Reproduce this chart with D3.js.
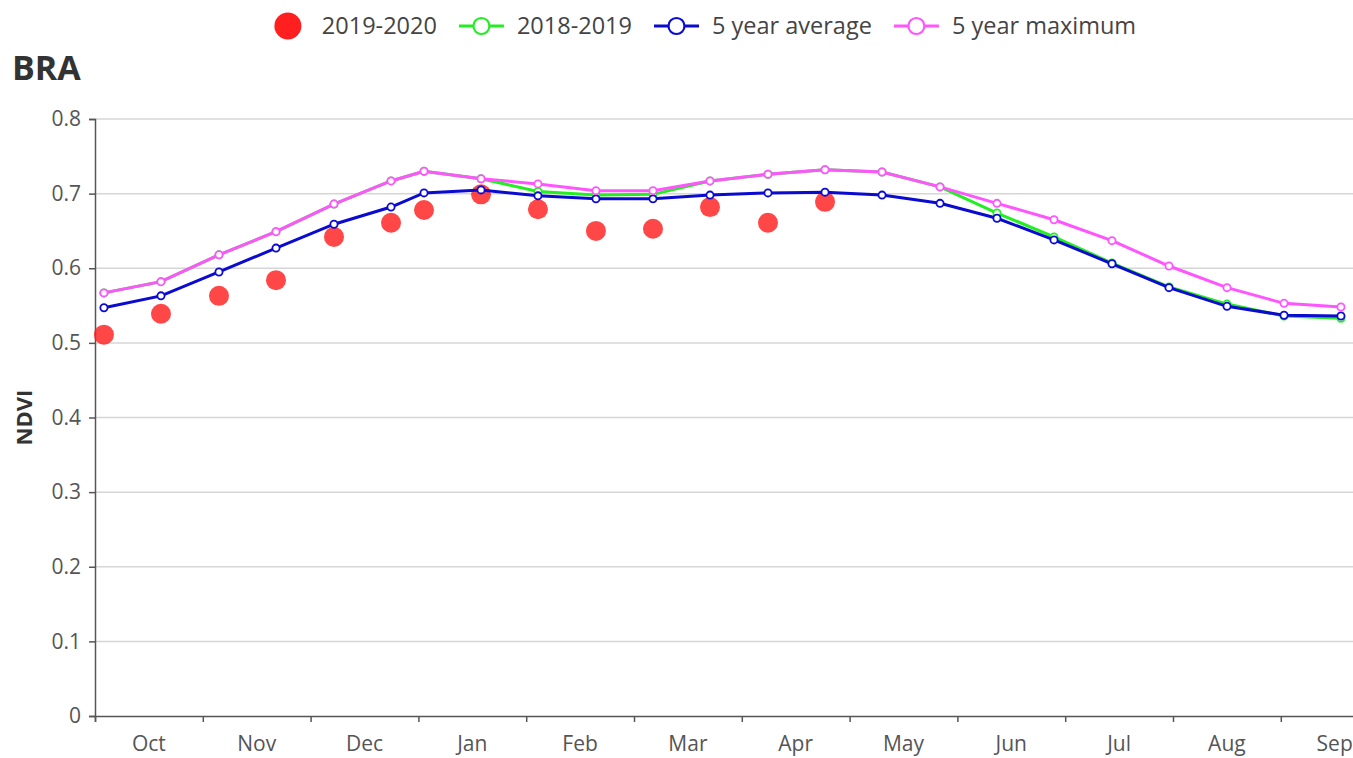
<!DOCTYPE html>
<html>
<head>
<meta charset="utf-8">
<script src="https://cdn.jsdelivr.net/npm/d3@7"></script>
<style>
  html, body { margin: 0; padding: 0; background: #fff; overflow: hidden; }
  svg { display: block; font-family: "Open Sans", sans-serif; }
</style>
</head>
<body>
<script>
// month labels of the season axis
const months = ["Oct", "Nov", "Dec", "Jan", "Feb", "Mar", "Apr", "May", "Jun", "Jul", "Aug", "Sep"];

// position of each 16-day composite, in months since 1 Oct
const period = [0.083, 0.612, 1.150, 1.679, 2.217, 2.746, 3.052, 3.581, 4.109, 4.647, 5.176, 5.705,
                6.243, 6.772, 7.301, 7.839, 8.367, 8.896, 9.434, 9.963, 10.501, 11.030, 11.558];

const ndvi2020 = [0.511, 0.539, 0.563, 0.584, 0.642, 0.661, 0.678, 0.699, 0.679, 0.650, 0.653, 0.682,
                  0.661, 0.689];

const ndvi2019 = [0.567, 0.582, 0.618, 0.649, 0.686, 0.717, 0.730, 0.720, 0.703, 0.698, 0.699, 0.717,
                  0.726, 0.732, 0.729, 0.709, 0.674, 0.642, 0.607, 0.575, 0.552, 0.536, 0.533];

const avg5 = [0.547, 0.563, 0.595, 0.627, 0.659, 0.682, 0.701, 0.705, 0.697, 0.693, 0.693, 0.698,
              0.701, 0.702, 0.698, 0.687, 0.667, 0.638, 0.606, 0.574, 0.549, 0.537, 0.536];

const max5 = [0.567, 0.582, 0.618, 0.649, 0.686, 0.717, 0.730, 0.720, 0.713, 0.704, 0.704, 0.717,
              0.726, 0.732, 0.729, 0.709, 0.687, 0.665, 0.637, 0.603, 0.574, 0.553, 0.548];

const yTicks = [0, 0.1, 0.2, 0.3, 0.4, 0.5, 0.6, 0.7, 0.8];

const W = 1353, H = 758;
const margin = {top: 119, left: 95, bottom: 42};
const monthW = 107.8;

const svg = d3.select("body").append("svg")
  .attr("width", W)
  .attr("height", H);

const x = d3.scaleLinear().domain([0, 12]).range([margin.left, margin.left + 12 * monthW]);
const y = d3.scaleLinear().domain([0, 0.8]).range([H - margin.bottom, margin.top]);

// grid
svg.append("g").selectAll("line")
  .data(yTicks.filter(d => d > 0))
  .enter().append("line")
  .attr("x1", x(0)).attr("x2", W)
  .attr("y1", d => y(d)).attr("y2", d => y(d))
  .attr("stroke", "#d6d6d6")
  .attr("stroke-width", 1.5);

// y axis
const yAxis = svg.append("g")
  .attr("transform", `translate(${x(0)},0)`)
  .call(d3.axisLeft(y).tickValues(yTicks).tickSize(6).tickPadding(8)
        .tickFormat(d => d === 0 ? "0" : d3.format(".1f")(d)));
yAxis.select(".domain").attr("stroke", "#555").attr("stroke-width", 1.5);
yAxis.selectAll(".tick line").attr("stroke", "#555").attr("stroke-width", 1.5);
yAxis.selectAll(".tick text")
  .attr("fill", "#555")
  .style("font-size", "21px")
  .style("font-family", "Open Sans");

// x axis: month boundaries as ticks, labels centred in each month
const xAxis = svg.append("g")
  .attr("transform", `translate(0,${y(0)})`)
  .call(d3.axisBottom(x).tickValues(d3.range(0, 13)).tickSize(6).tickFormat(""));
xAxis.select(".domain").attr("stroke", "#555").attr("stroke-width", 1.5);
xAxis.selectAll(".tick line").attr("stroke", "#555").attr("stroke-width", 1.5);

svg.append("g").selectAll("text")
  .data(months)
  .enter().append("text")
  .attr("x", (d, i) => x(i + 0.5))
  .attr("y", y(0) + 35)
  .attr("text-anchor", "middle")
  .attr("fill", "#555")
  .style("font-size", "21px")
  .text(d => d);

// title and axis name
svg.append("text")
  .attr("x", 12).attr("y", 80)
  .attr("fill", "#333")
  .style("font-size", "34px")
  .style("font-weight", "bold")
  .text("BRA");

svg.append("text")
  .attr("transform", `translate(32,${(y(0.4))}) rotate(-90)`)
  .attr("text-anchor", "middle")
  .attr("fill", "#333")
  .style("font-size", "22px")
  .style("font-weight", "bold")
  .text("NDVI");

// series
const red = "#ff1f1f";
const series = [
  {name: "2018-2019", values: ndvi2019, color: "#22ee22"},
  {name: "5 year average", values: avg5, color: "#0a0ad0"},
  {name: "5 year maximum", values: max5, color: "#ff55ff"}
];

const plot = svg.append("g");

plot.selectAll(".dot")
  .data(ndvi2020)
  .enter().append("circle")
  .attr("class", "dot")
  .attr("cx", (d, i) => x(period[i]))
  .attr("cy", d => y(d))
  .attr("r", 10)
  .attr("fill", red)
  .attr("fill-opacity", 0.82);

const line = d3.line()
  .x((d, i) => x(period[i]))
  .y(d => y(d));

series.forEach(s => {
  const g = plot.append("g");
  g.append("path")
    .datum(s.values)
    .attr("d", line)
    .attr("fill", "none")
    .attr("stroke", s.color)
    .attr("stroke-width", 3);
  g.selectAll("circle")
    .data(s.values)
    .enter().append("circle")
    .attr("cx", (d, i) => x(period[i]))
    .attr("cy", d => y(d))
    .attr("r", 3.6)
    .attr("fill", "#fff")
    .attr("stroke", s.color)
    .attr("stroke-width", 1.8);
});

// legend
const legendItems = [{name: "2019-2020", color: red, dot: true}].concat(series);
const legend = svg.append("g");
let lx = 0;
legendItems.forEach(item => {
  const g = legend.append("g").attr("transform", `translate(${lx},0)`);
  let iconW;
  if (item.dot) {
    g.append("circle").attr("cx", 14).attr("cy", 0).attr("r", 13.5).attr("fill", item.color);
    iconW = 28;
  } else {
    g.append("line").attr("x1", 0).attr("x2", 45).attr("y1", 0).attr("y2", 0)
      .attr("stroke", item.color).attr("stroke-width", 2.8);
    g.append("circle").attr("cx", 22.5).attr("cy", 0).attr("r", 8)
      .attr("fill", "#fff").attr("stroke", item.color).attr("stroke-width", 2.2);
    iconW = 45;
  }
  const t = g.append("text")
    .attr("x", iconW + (item.dot ? 20 : 13))
    .attr("y", 0)
    .attr("dy", "0.35em")
    .attr("fill", "#444")
    .style("font-size", "23.5px")
    .text(item.name);
  lx += iconW + (item.dot ? 20 : 13) + t.node().getComputedTextLength() + 22;
});
const legendW = lx - 22;
legend.attr("transform", `translate(${705 - legendW / 2},26)`);
</script>
</body>
</html>
